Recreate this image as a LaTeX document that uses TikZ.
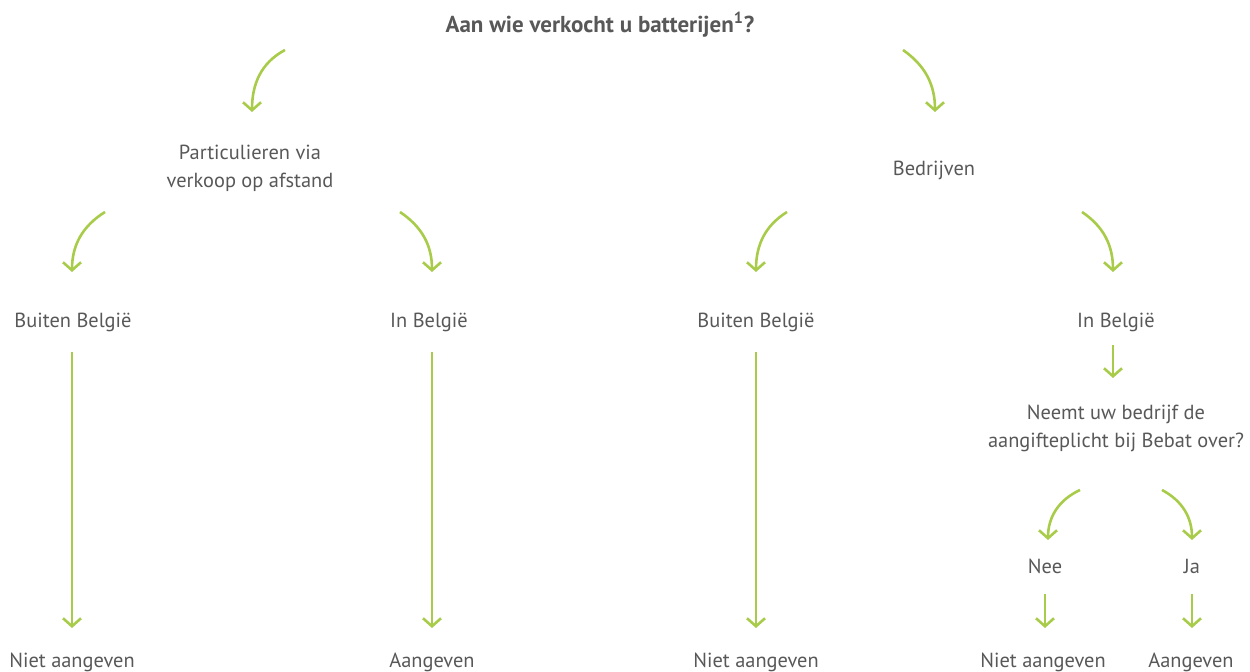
\documentclass[tikz,border=0pt]{standalone}
\usepackage{fontspec}
\setmainfont{PT Sans}
\usepackage{tikz}
\usetikzlibrary{arrows.meta, positioning, calc}
\definecolor{txtGray}{RGB}{88, 88, 88}
\definecolor{arrGreen}{RGB}{168, 204, 74}
\tikzstyle{arrow} = [draw=arrGreen, line width=1.3pt, -{Straight Barb[length=4pt, width=9pt]}]
\tikzstyle{lbl} = [text=txtGray, font=\fontsize{10.2}{14}\selectfont, align=center, inner sep=1pt]

\begin{document}
\begin{tikzpicture}[x=0.5pt, y=0.5pt]
\useasboundingbox (0,0) rectangle (1250,-672);

\node (title) [lbl, font=\fontsize{11.5}{14}\selectfont\bfseries] at (600,-25) {Aan wie verkocht u batterijen\textsuperscript{1}?};

\node (priv) [lbl] at (250,-168) {Particulieren via\\verkoop op afstand};
\node (comp) [lbl] at (934,-170) {Bedrijven};

\node (privOut) [lbl] at (73,-322) {Buiten België};
\node (privIn) [lbl] at (429,-322) {In België};
\node (compOut) [lbl] at (756,-322) {Buiten België};
\node (compIn) [lbl] at (1116,-322) {In België};

\node (question) [lbl] at (1116,-428) {Neemt uw bedrijf de\\aangifteplicht bij Bebat over?};
\node (nee) [lbl] at (1045,-566) {Nee};
\node (ja) [lbl] at (1192,-566) {Ja};

\node (resA) [lbl] at (72,-662) {Niet aangeven};
\node (resB) [lbl] at (432,-662) {Aangeven};
\node (resC) [lbl] at (756,-662) {Niet aangeven};
\node (resD) [lbl] at (1043,-662) {Niet aangeven};
\node (resE) [lbl] at (1191,-662) {Aangeven};

% first split
\draw [arrow] ($(title)+(-315,-25)$) to[out=208, in=90] ($(priv)+(2,56)$);
\draw [arrow] ($(title)+(303,-25)$) to[out=-35, in=90] ($(comp)+(1,58)$);

% second split
\draw [arrow] ($(priv)+(-145,-44)$) to[out=212, in=90] ($(privOut)+(-1,50)$);
\draw [arrow] ($(priv)+(150,-44)$) to[out=-34, in=90] ($(privIn)+(3,50)$);
\draw [arrow] ($(comp)+(-147,-42)$) to[out=212, in=90] ($(compOut)+(0,50)$);
\draw [arrow] ($(comp)+(148,-42)$) to[out=-34, in=90] ($(compIn)+(-3,50)$);

% long runs
\draw [arrow] ($(privOut)+(-1,-30)$) -- ($(resA)+(0,34)$);
\draw [arrow] ($(privIn)+(3,-30)$) -- ($(resB)+(0,34)$);
\draw [arrow] ($(compOut)+(0,-30)$) -- ($(resC)+(0,34)$);

% question branch
\draw [arrow] ($(compIn)+(-3,-23)$) -- ($(question)+(-3,50)$);
\draw [arrow] ($(question)+(-36,-62)$) to[out=205, in=90] ($(nee)+(3,26)$);
\draw [arrow] ($(question)+(46,-62)$) to[out=-28, in=90] ($(ja)+(0,26)$);
\draw [arrow] ($(nee)+(0,-28)$) -- ($(resD)+(2,34)$);
\draw [arrow] ($(ja)+(0,-28)$) -- ($(resE)+(1,34)$);

\end{tikzpicture}
\end{document}
